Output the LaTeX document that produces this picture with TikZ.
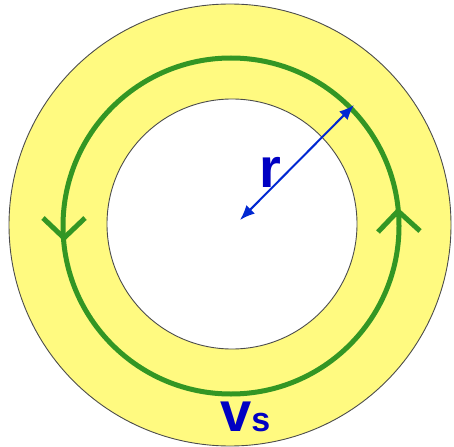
\documentclass[tikz,border=0pt]{standalone}
\usepackage{fontspec}
\setmainfont{Liberation Sans}
\usetikzlibrary{arrows.meta}
\definecolor{ringyellow}{RGB}{255,250,128}
\definecolor{loopgreen}{RGB}{51,150,36}
\definecolor{radblue}{RGB}{0,40,210}
\definecolor{labelblue}{RGB}{0,0,195}
\begin{document}
\begin{tikzpicture}[x=1pt,y=-1pt,
    rim/.style={draw=black!70,line width=0.9pt},
    loopline/.style={draw=loopgreen,line width=5pt},
    chevron/.style={draw=loopgreen,line width=5pt,line join=miter},
    radius arrow/.style={draw=radblue,line width=2pt,{Latex[length=15pt,width=12pt]}-{Latex[length=15pt,width=12pt]}},
    lbl/.style={text=labelblue,font=\bfseries,inner sep=0pt}]
  \useasboundingbox (0,0) rectangle (454,446);
  % ring
  \filldraw[rim,fill=ringyellow] (230,225) circle[radius=221];
  \filldraw[rim,fill=white] (232,224) circle[radius=125];
  % path of the loop
  \draw[loopline] (231,226) circle[radius=168];
  \draw[chevron] (43,218) -- (64,238) -- (85,218);
  \draw[chevron] (378,232) -- (398,211) -- (420,231);
  % radius
  \coordinate (centre) at (240,220);
  \coordinate (outer) at (354,105);
  \draw[radius arrow] (centre) -- (outer);
  \node[lbl,anchor=base west] (r) at (259,187) {\fontsize{56}{56}\selectfont r};
  \node[lbl,anchor=base west] (vs) at (220,431) {\fontsize{56}{56}\selectfont v\fontsize{34}{34}\selectfont s};
\end{tikzpicture}
\end{document}
